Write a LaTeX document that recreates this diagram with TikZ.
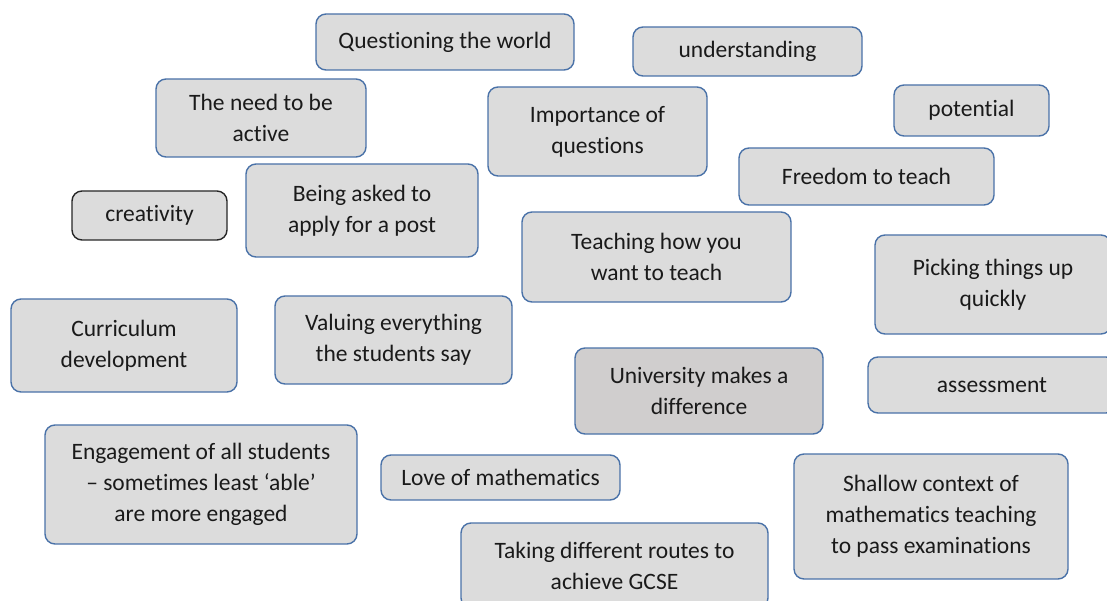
\documentclass[tikz,border=0pt]{standalone}
\usepackage{fontspec}
\setmainfont{Carlito}[Ligatures=NoCommon]
\definecolor{boxfill}{HTML}{DCDCDC}
\definecolor{boxfilldark}{HTML}{D0CECE}
\definecolor{boxline}{HTML}{4A72A8}
\definecolor{txt}{HTML}{1A1A1A}
\tikzset{
  card/.style={draw=boxline, line width=1.4pt, fill=boxfill, rounded corners=10pt,
    inner sep=0pt, align=center, text=txt,
    font=\fontsize{23.5}{31}\selectfont},
}
\begin{document}
\begin{tikzpicture}[x=1pt,y=-1pt]
\useasboundingbox (0,0) rectangle (1107,601);
\clip (0,0) rectangle (1107,601);
\node[card, minimum width=258pt, minimum height=56pt] (q) at (445,42) {Questioning the world};
\node[card, minimum width=229pt, minimum height=49pt] (u) at (747.5,51.5) {understanding};
\node[card, minimum width=210pt, minimum height=78pt] (n) at (261,118) {The need to be\\active};
\node[card, minimum width=219pt, minimum height=89pt] (i) at (597.5,131.5) {Importance of\\questions};
\node[card, minimum width=155pt, minimum height=51pt] (p) at (971.5,110.5) {potential};
\node[card, minimum width=255pt, minimum height=57pt] (f) at (866.5,176.5) {Freedom to teach};
\node[card, draw=black!85, minimum width=155pt, minimum height=49pt] (c) at (149.5,215.5) {creativity};
\node[card, minimum width=232pt, minimum height=93pt] (b) at (362,210.5) {Being asked to\\apply for a post};
\node[card, minimum width=269pt, minimum height=90pt] (t) at (656.5,257) {Teaching how you\\want to teach};
\node[card, minimum width=236pt, minimum height=99pt] (pk) at (993,284.5) {Picking things up\\quickly};
\node[card, minimum width=226pt, minimum height=93pt] (cd) at (124,345.5) {Curriculum\\development};
\node[card, minimum width=237pt, minimum height=88pt] (v) at (393.5,340) {Valuing everything\\the students say};
\node[card, fill=boxfilldark, minimum width=248pt, minimum height=86pt] (um) at (699,391) {University makes a\\difference};
\node[card, minimum width=248pt, minimum height=56pt] (a) at (992,385) {assessment};
\node[card, minimum width=312pt, minimum height=119pt] (e) at (201,484.5) {Engagement of all students\\– sometimes least ‘able’\\are more engaged};
\node[card, minimum width=239pt, minimum height=45pt] (l) at (500.5,477.5) {Love of mathematics};
\node[card, minimum width=274pt, minimum height=125pt] (s) at (931,516.5) {Shallow context of\\mathematics teaching\\to pass examinations};
\node[card, minimum width=307pt, minimum height=85pt] (tk) at (614.5,565.5) {Taking different routes to\\achieve GCSE};
\end{tikzpicture}
\end{document}
